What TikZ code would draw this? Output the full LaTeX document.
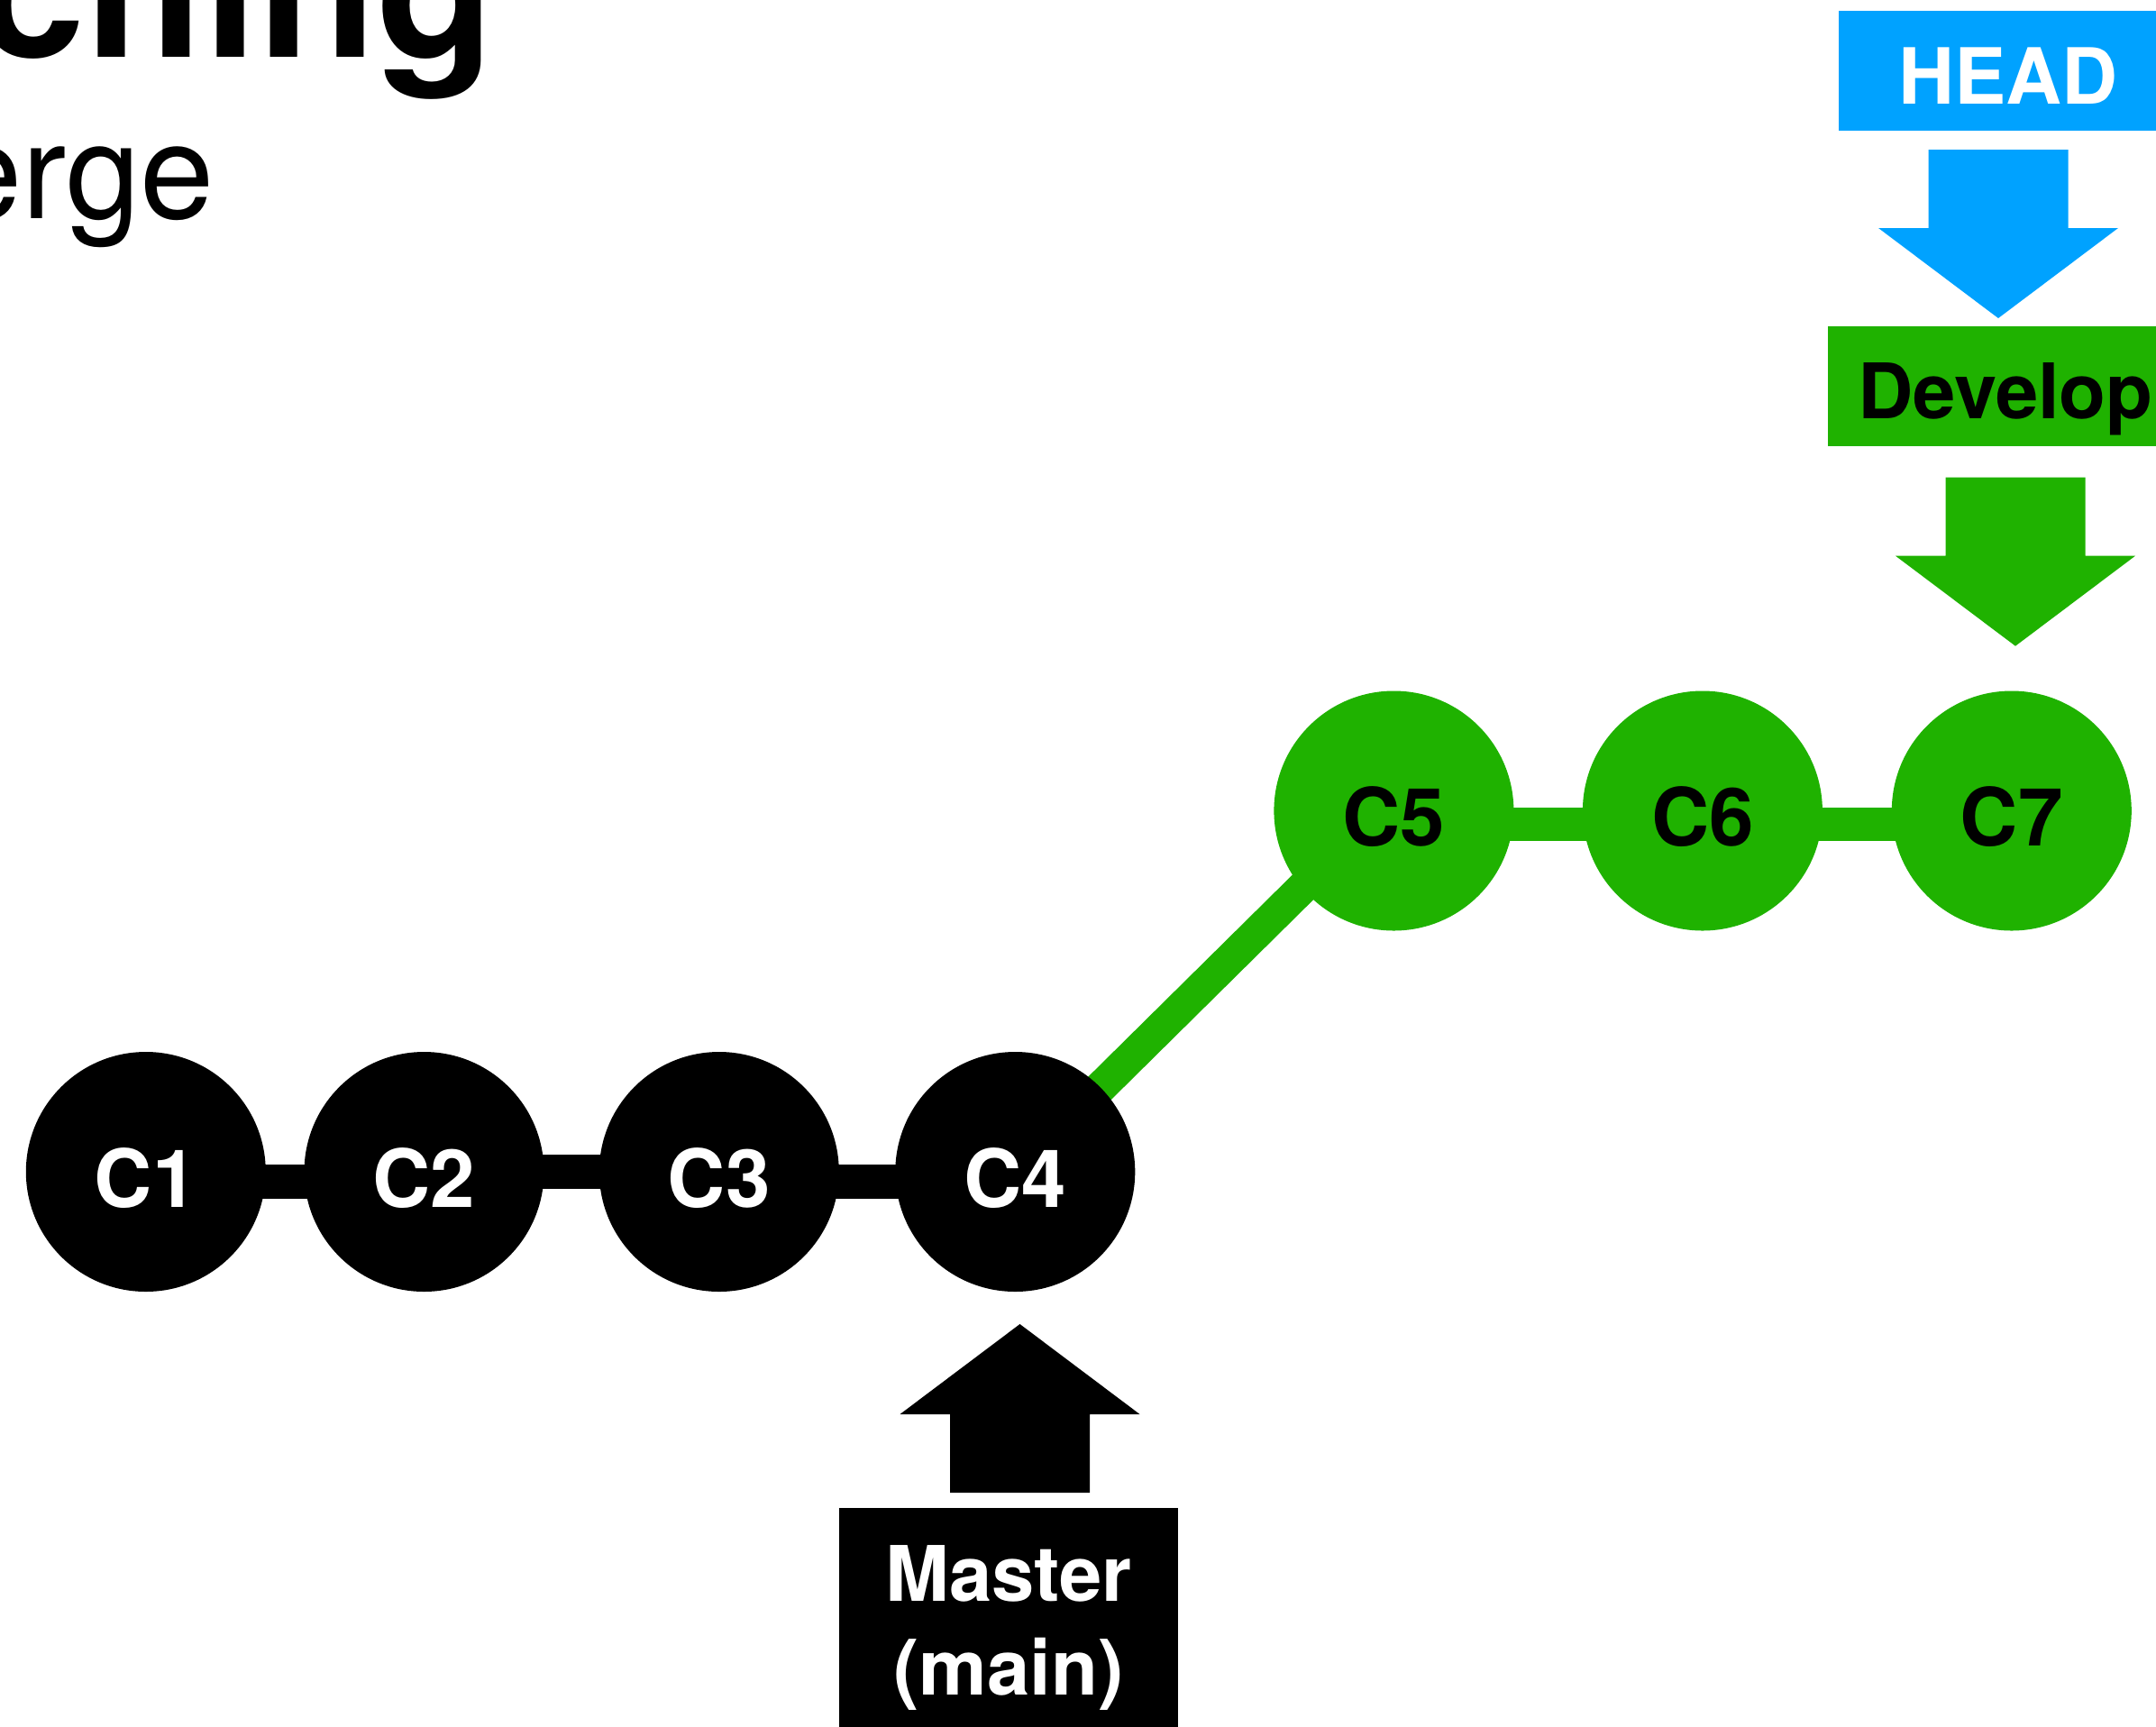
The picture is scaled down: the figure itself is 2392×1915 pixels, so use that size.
\documentclass[tikz,border=0pt]{standalone}
\usepackage{fontspec}
\setmainfont{TeX Gyre Heros}
\usetikzlibrary{backgrounds}

\definecolor{devgreen}{HTML}{1FB200}
\definecolor{headblue}{HTML}{00A2FF}

\tikzset{
  pics/blockarrow/.style={code={
    \fill[#1] (0,0) -- (133,-100) -- (77.5,-100) -- (77.5,-187)
      -- (-77.5,-187) -- (-77.5,-100) -- (-133,-100) -- cycle;
  }}
}

\begin{document}
\begin{tikzpicture}[x=1pt, y=-1pt,
  commit/.style={circle, minimum size=266pt, inner sep=0pt, font=\fontsize{89}{100}\selectfont\bfseries, text height=78pt, text depth=0pt},
  branchbox/.style={rectangle, inner sep=0pt, font=\fontsize{86}{100}\selectfont\bfseries, text height=75pt, text depth=0pt},
  bar/.style={line width=37.5pt}]
\useasboundingbox (0,0) rectangle (2392,1915);
\clip (0,0) rectangle (2392,1915);

% heading, cut off by the frame
\node[anchor=base east, inner sep=0pt, font=\fontsize{215}{250}\selectfont\bfseries] (title) at (549,63) {Branching};
\node[anchor=base east, inner sep=0pt, font=\fontsize{148}{170}\selectfont] (subtitle) at (238,242) {Merge};

% commits
\foreach \n/\x in {1/161.8, 2/470.5, 3/797.8, 4/1126.3}
  \node[commit, fill=black, text=white] (c\n) at (\x,1300) {C\n};
\foreach \n/\x in {5/1546.4, 6/1888.9, 7/2231.8}
  \node[commit, fill=devgreen, text=black] (c\n) at (\x,899.5) {C\n};

\begin{scope}[on background layer]
\foreach \a/\b/\s in {1/2/-11, 2/3/0, 3/4/-11}
  \draw[bar, black] ([yshift=\s pt]c\a.center) -- ([yshift=\s pt]c\b.center);
\foreach \a/\b in {5/6, 6/7}
  \draw[bar, devgreen] ([yshift=-15pt]c\a.center) -- ([yshift=-15pt]c\b.center);
\draw[bar, devgreen, line width=36pt] (c4.center) -- ([xshift=-8pt, yshift=7pt]c5.center);
\end{scope}

% pointers
\node[branchbox, fill=headblue, text=white, minimum width=376pt, minimum height=132.5pt] (head) at (2228,78.3) {HEAD};
\node[branchbox, fill=devgreen, text=black, minimum width=394pt, minimum height=132.7pt, font=\fontsize{85}{100}\selectfont\bfseries, text height=73pt] (develop) at (2225,428.3) {Develop};
\node[fill=black, text=white, anchor=north, minimum width=376pt, inner xsep=0pt, inner ysep=42pt, align=center, font=\fontsize{85}{104}\selectfont\bfseries] (master) at (1119,1672.7) {Master\\(main)};

\pic at (2217,353) {blockarrow=headblue};
\pic at (2236,716.7) {blockarrow=devgreen};
\pic[rotate=180] at (1131.5,1469) {blockarrow=black};

\end{tikzpicture}
\end{document}
